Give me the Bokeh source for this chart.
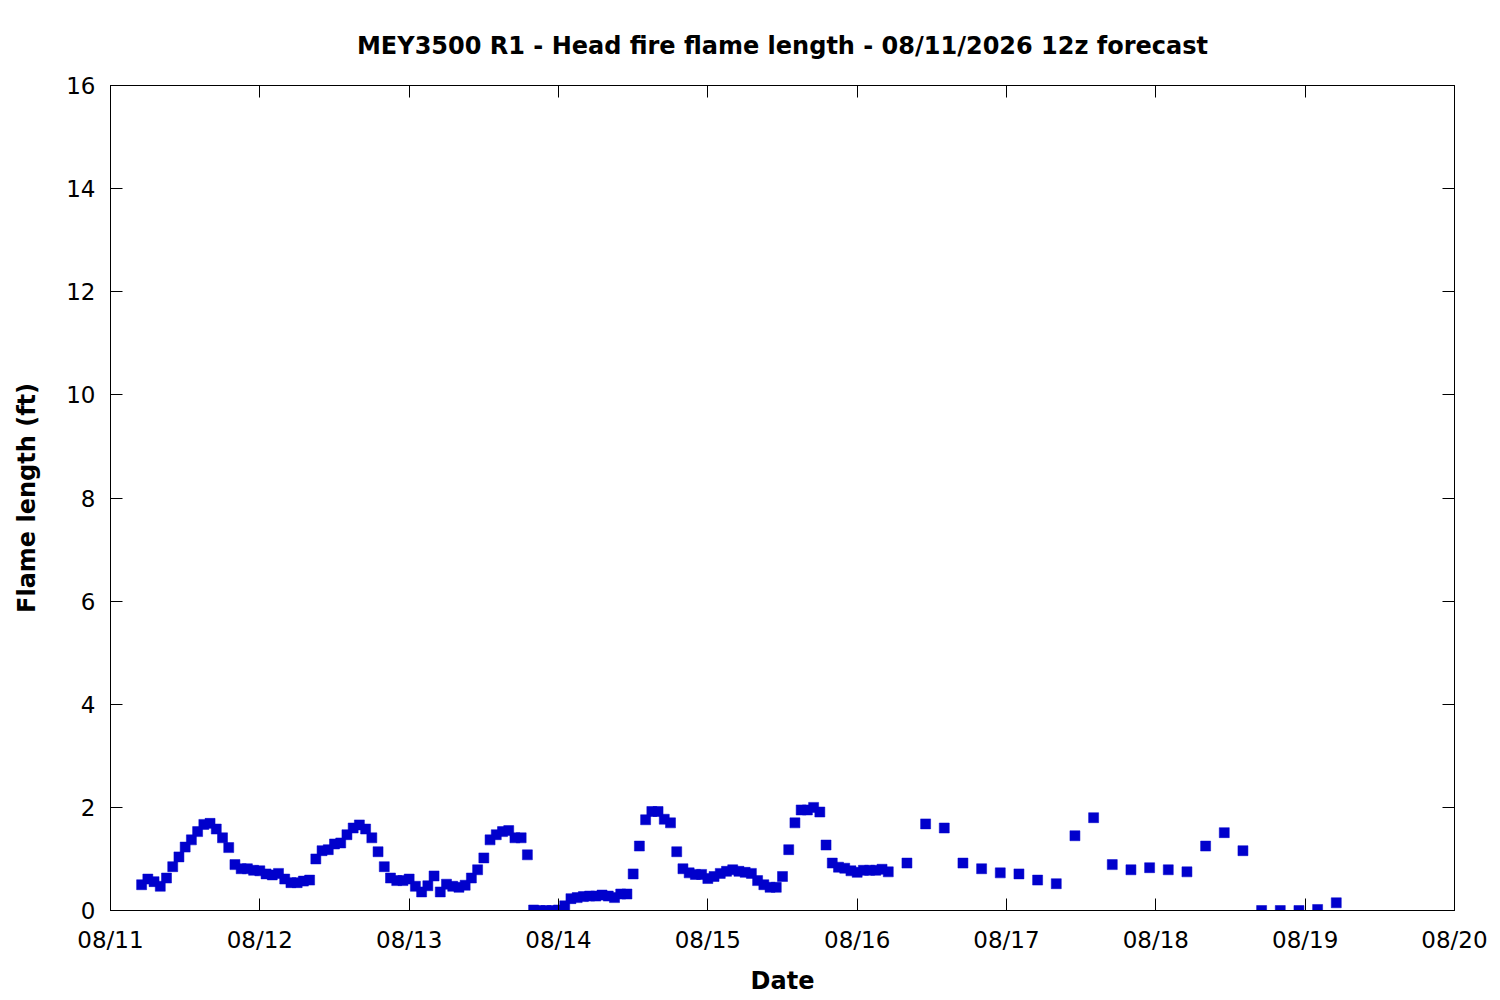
import pandas as pd
from bokeh.plotting import figure
from bokeh.models import (ColumnDataSource, Range1d, LinearAxis, DatetimeAxis,
                          DaysTicker, SingleIntervalTicker, DatetimeTickFormatter,
                          CustomJSTickFormatter)
from bokeh.embed import file_html
from bokeh.resources import INLINE

# ---------------- data ----------------
title_text = "MEY3500 R1 - Head fire flame length - 08/11/2026 12z forecast"
x_label = "Date"
y_label = "Flame length (ft)"

hourly_start = "2026-08-11 05:00"
hourly_values = [
    0.50, 0.61, 0.56, 0.47, 0.63, 0.85, 1.04, 1.23, 1.37, 1.53, 1.67, 1.69,
    1.58, 1.41, 1.22, 0.89, 0.81, 0.81, 0.78, 0.77, 0.71, 0.69, 0.72, 0.61,
    0.54, 0.54, 0.57, 0.59, 1.00, 1.16, 1.18, 1.29, 1.31, 1.47, 1.60, 1.66,
    1.58, 1.41, 1.14, 0.85, 0.63, 0.58, 0.58,
    0.61, 0.47, 0.36, 0.48, 0.67, 0.36, 0.51, 0.47, 0.45, 0.49, 0.63, 0.79,
    1.02, 1.37, 1.47, 1.53, 1.55, 1.41, 1.41, 1.08, 0.01, 0.00, 0.00, 0.00,
    0.01, 0.09, 0.23, 0.25, 0.27, 0.28, 0.28, 0.30, 0.28, 0.25, 0.32, 0.32,
    0.71, 1.25, 1.76, 1.92, 1.92, 1.77, 1.70, 1.14, 0.81, 0.73, 0.70,
    0.70, 0.62, 0.66, 0.72, 0.76, 0.79, 0.76, 0.74, 0.72, 0.58, 0.50, 0.45,
    0.45, 0.66, 1.18, 1.70, 1.95, 1.95, 2.00, 1.91, 1.27, 0.92, 0.84, 0.82,
    0.77, 0.74, 0.78, 0.78, 0.78, 0.80, 0.75,
]

three_hourly_start = "2026-08-16 08:00"
three_hourly_values = [
    0.92, 1.68, 1.60, 0.92, 0.81, 0.73, 0.71, 0.59, 0.52, 1.45, 1.80, 0.89,
    0.79, 0.83, 0.79, 0.75, 1.25, 1.51, 1.16, 0.00, 0.00, 0.00, 0.02, 0.15,
]

x_start = "2026-08-11"
x_end = "2026-08-20"
y_min, y_max, y_step = 0, 16, 2

# ---------------- build ----------------
t_hourly = pd.date_range(hourly_start, periods=len(hourly_values), freq="h")
t_3h = pd.date_range(three_hourly_start, periods=len(three_hourly_values), freq="3h")
times = list(t_hourly) + list(t_3h)
values = hourly_values + three_hourly_values
source = ColumnDataSource(dict(t=times, v=values))

FONT = "DejaVu Sans"
W, H = 1492, 998

p = figure(width=W, height=H, output_backend="svg", toolbar_location=None,
           x_axis_type="datetime",
           x_range=Range1d(pd.Timestamp(x_start), pd.Timestamp(x_end)),
           y_range=Range1d(y_min, y_max),
           min_border_left=110, min_border_right=W - 1454,
           min_border_top=85, min_border_bottom=H - 910,
           title=title_text)

p.background_fill_color = "white"
p.border_fill_color = "white"
p.outline_line_color = "black"
p.outline_line_width = 1
p.grid.visible = False

p.title.text_font = FONT
p.title.text_font_size = "24px"
p.title.text_font_style = "bold"
p.title.align = "center"
p.title.text_color = "black"
p.title.standoff = 52

day_ticker = DaysTicker(days=list(range(1, 32)))
y_ticker = SingleIntervalTicker(interval=y_step)
fmt = DatetimeTickFormatter(days="%m/%d", months="%m/%d", hours="%m/%d",
                            years="%m/%d")
blank = CustomJSTickFormatter(code="return '';")

def style_axis(ax):
    ax.axis_line_color = "black"
    ax.major_tick_line_color = "black"
    ax.major_tick_in = 12
    ax.major_tick_out = 0
    ax.minor_tick_line_color = None
    ax.major_label_text_font = FONT
    ax.major_label_text_font_size = "23px"
    ax.major_label_text_color = "black"
    ax.axis_label_text_font = FONT
    ax.axis_label_text_font_style = "bold"
    ax.axis_label_text_font_size = "24px"
    ax.axis_label_text_color = "black"

xa = p.xaxis[0]
xa.ticker = day_ticker
xa.formatter = fmt
xa.axis_label = x_label
style_axis(xa)
xa.major_label_standoff = 16
xa.axis_label_standoff = 11

ya = p.yaxis[0]
ya.ticker = y_ticker
ya.axis_label = y_label
style_axis(ya)
ya.major_label_standoff = 11
ya.axis_label_standoff = 22

top = DatetimeAxis(ticker=day_ticker, formatter=blank)
style_axis(top)
top.major_label_standoff = 0
p.add_layout(top, "above")

right = LinearAxis(ticker=y_ticker, formatter=blank)
style_axis(right)
right.major_label_standoff = 0
p.add_layout(right, "right")

p.scatter("t", "v", source=source, marker="square", size=10,
          fill_color="#0000cc", line_color="#0000cc", line_width=0.5)

open("out.html", "w").write(file_html(p, INLINE))
